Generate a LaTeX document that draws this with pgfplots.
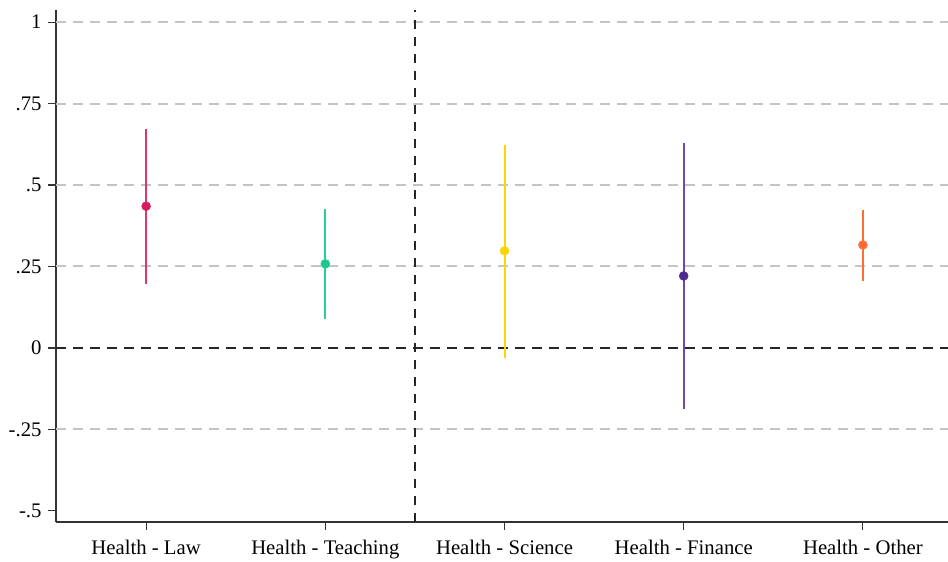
\documentclass[border=0pt]{standalone}
\usepackage{pgfplots}
\pgfplotsset{compat=1.18}
\usepackage{fontspec}
\setmainfont{Liberation Serif}
\definecolor{cLaw}{HTML}{D81B60}
\definecolor{cLawL}{HTML}{DE3570}
\definecolor{cTeach}{HTML}{1AC98A}
\definecolor{cTeachL}{HTML}{2ACF92}
\definecolor{cSci}{HTML}{FFD500}
\definecolor{cFin}{HTML}{4B2B8F}
\definecolor{cFinL}{HTML}{6A4BAA}
\definecolor{cOth}{HTML}{FF6A35}
\definecolor{cGrid}{HTML}{C4C4C4}
\begin{document}
\begin{tikzpicture}
\useasboundingbox (-56bp,-40bp) rectangle (892bp,522bp);
\begin{axis}[
  scale only axis,
  width=892bp, height=512bp,
  xmin=0.497, xmax=5.475,
  ymin=-0.534, ymax=1.037,
  axis lines=left,
  axis line style={-, draw=black!80, line width=1.2bp},
  tick align=outside,
  major tick length=8bp,
  tick style={draw=black!80, line width=1.1bp},
  xtick={1,2,3,4,5},
  xticklabels={Health - Law, Health - Teaching, Health - Science, Health - Finance, Health - Other},
  ytick={-0.5,-0.25,0,0.25,0.5,0.75,1},
  yticklabels={-.5,-.25,0,.25,.5,.75,1},
  ticklabel style={font=\fontsize{20.8}{24}\selectfont, text=black},
  xticklabel style={yshift=-7bp},
  yticklabel style={xshift=-3bp},
  clip=false,
]
% grid lines
\addplot[cGrid, line width=2bp, dash pattern=on 10bp off 7bp] coordinates {(0.497,1) (5.475,1)};
\addplot[cGrid, line width=2bp, dash pattern=on 10bp off 7bp] coordinates {(0.497,0.75) (5.475,0.75)};
\addplot[cGrid, line width=2bp, dash pattern=on 10bp off 7bp] coordinates {(0.497,0.5) (5.475,0.5)};
\addplot[cGrid, line width=2bp, dash pattern=on 10bp off 7bp] coordinates {(0.497,0.25) (5.475,0.25)};
\addplot[cGrid, line width=2bp, dash pattern=on 10bp off 7bp] coordinates {(0.497,-0.25) (5.475,-0.25)};
% reference lines
\addplot[black!85, line width=1.8bp, dash pattern=on 10bp off 7bp] coordinates {(0.497,0) (5.475,0)};
\addplot[black!85, line width=1.8bp, dash pattern=on 9bp off 8bp] coordinates {(2.5,-0.534) (2.5,1.037)};
% confidence intervals
\addplot[cLawL, line width=2bp] coordinates {(1,0.196) (1,0.672)};
\addplot[cTeachL, line width=2bp] coordinates {(2,0.089) (2,0.426)};
\addplot[cSci, line width=2bp] coordinates {(3,-0.031) (3,0.623)};
\addplot[cFinL, line width=2bp] coordinates {(4,-0.187) (4,0.629)};
\addplot[cOth, line width=2bp] coordinates {(5,0.206) (5,0.423)};
% point estimates
\addplot[only marks, mark=*, mark size=4.5bp, color=cLaw] coordinates {(1,0.435)};
\addplot[only marks, mark=*, mark size=4.5bp, color=cTeach] coordinates {(2,0.258)};
\addplot[only marks, mark=*, mark size=4.5bp, color=cSci] coordinates {(3,0.298)};
\addplot[only marks, mark=*, mark size=4.5bp, color=cFin] coordinates {(4,0.221)};
\addplot[only marks, mark=*, mark size=4.5bp, color=cOth] coordinates {(5,0.316)};
\end{axis}
\end{tikzpicture}
\end{document}
